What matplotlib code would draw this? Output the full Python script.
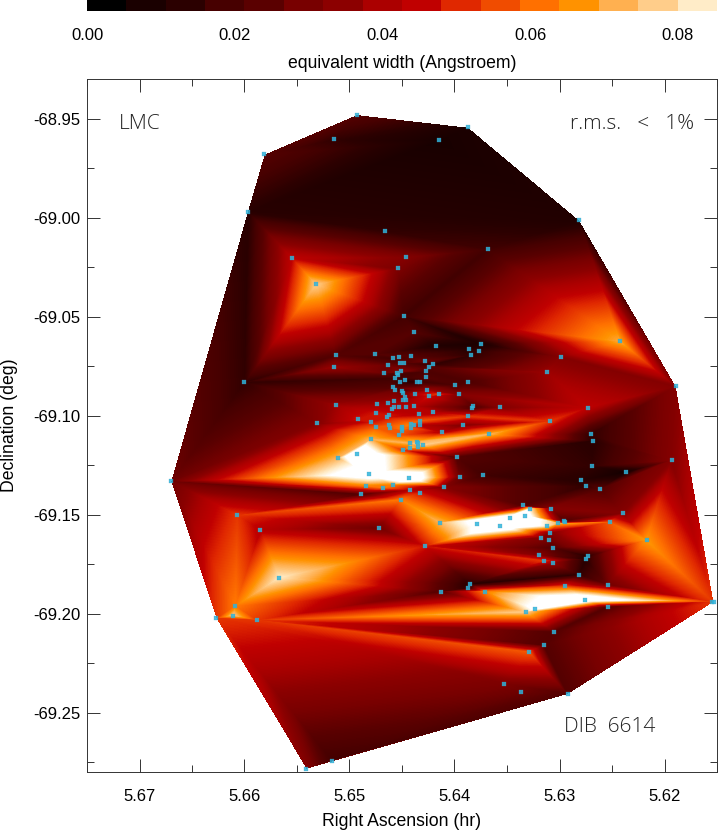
import numpy as np
import matplotlib
matplotlib.use('Agg')
import matplotlib.pyplot as plt
import matplotlib.tri as mtri
from matplotlib.colors import LinearSegmentedColormap, ListedColormap
from matplotlib.ticker import MultipleLocator, FormatStrFormatter

# sightlines: right ascension (hr), declination (deg), equivalent width (A)
ra = [
    5.6493, 5.6515, 5.6581, 5.6597, 5.6555, 5.6532, 5.6466, 5.6446, 5.6454, 5.6448,
    5.6439, 5.6415, 5.6387, 5.6281, 5.6368, 5.6242, 5.6375, 5.6386, 5.6377, 5.6384,
    5.6299, 5.6312, 5.6189, 5.6387, 5.6400, 5.6396, 5.6382, 5.6383, 5.6357, 5.6273,
    5.6387, 5.6392, 5.6412, 5.6309, 5.6367, 5.6270, 5.6268, 5.6398, 5.6269, 5.6193,
    5.6237, 5.6395, 5.6373, 5.6410, 5.6280, 5.6275, 5.6261, 5.6335, 5.6328, 5.6308,
    5.6333, 5.6347, 5.6379, 5.6357, 5.6414, 5.6312, 5.6309, 5.6318, 5.6310, 5.6306,
    5.6301, 5.6296, 5.6295, 5.6252, 5.6240, 5.6217, 5.6320, 5.6315, 5.6306, 5.6273,
    5.6275, 5.6281, 5.6254, 5.6295, 5.6385, 5.6387, 5.6413, 5.6371, 5.6276, 5.6323,
    5.6332, 5.6254, 5.6155, 5.6153, 5.6305, 5.6315, 5.6329, 5.6353, 5.6337, 5.6292,
    5.6670, 5.6607, 5.6585, 5.6567, 5.6609, 5.6611, 5.6627, 5.6588, 5.6541, 5.6517,
    5.6489, 5.6484, 5.6468, 5.6459, 5.6442, 5.6433, 5.6451, 5.6472, 5.6428, 5.6600,
    5.6513, 5.6515, 5.6513, 5.6531, 5.6511, 5.6418, 5.6476, 5.6459, 5.6453, 5.6441,
    5.6428, 5.6420, 5.6452, 5.6448, 5.6463, 5.6424, 5.6427, 5.6451, 5.6467, 5.6455,
    5.6454, 5.6457, 5.6427, 5.6447, 5.6452, 5.6436, 5.6433, 5.6459, 5.6457, 5.6450,
    5.6449, 5.6438, 5.6426, 5.6424, 5.6415, 5.6447, 5.6449, 5.6446, 5.6458, 5.6463,
    5.6474, 5.6439, 5.6446, 5.6453, 5.6458, 5.6460, 5.6475, 5.6434, 5.6420, 5.6462,
    5.6464, 5.6492, 5.6433, 5.6480, 5.6441, 5.6439, 5.6462, 5.6461, 5.6433, 5.6475,
    5.6450, 5.6450, 5.6441, 5.6450, 5.6453, 5.6480, 5.6442, 5.6436, 5.6435, 5.6430,
    5.6442, 5.6435, 5.6449, 5.6493, 5.6481, 5.6443,
]
dec = [
    -68.9480, -68.9605, -68.9680, -68.9970, -69.0203, -69.0337, -69.0069, -69.0201, -69.0256, -69.0497,
    -69.0579, -68.9610, -68.9544, -69.0014, -69.0160, -69.0625, -69.0637, -69.0665, -69.0672, -69.0695,
    -69.0704, -69.0780, -69.0852, -69.0830, -69.0845, -69.0892, -69.0953, -69.0963, -69.0958, -69.0960,
    -69.1004, -69.1049, -69.1083, -69.1029, -69.1094, -69.1094, -69.1128, -69.1211, -69.1256, -69.1226,
    -69.1286, -69.1309, -69.1302, -69.1362, -69.1327, -69.1357, -69.1372, -69.1453, -69.1470, -69.1470,
    -69.1506, -69.1519, -69.1548, -69.1556, -69.1541, -69.1559, -69.1594, -69.1618, -69.1630, -69.1669,
    -69.1544, -69.1531, -69.1539, -69.1539, -69.1493, -69.1630, -69.1704, -69.1734, -69.1746, -69.1711,
    -69.1726, -69.1804, -69.1854, -69.1861, -69.1852, -69.1872, -69.1889, -69.1889, -69.1930, -69.1978,
    -69.1993, -69.1968, -69.1940, -69.1943, -69.2094, -69.2160, -69.2195, -69.2354, -69.2396, -69.2408,
    -69.1332, -69.1504, -69.1576, -69.1819, -69.1963, -69.2011, -69.2024, -69.2034, -69.2786, -69.2744,
    -69.1398, -69.1357, -69.1364, -69.1352, -69.1377, -69.1389, -69.1425, -69.1569, -69.1660, -69.0832,
    -69.0695, -69.0755, -69.0948, -69.1039, -69.1214, -69.0647, -69.0690, -69.0711, -69.0706, -69.0701,
    -69.0726, -69.0741, -69.0736, -69.0736, -69.0746, -69.0756, -69.0776, -69.0776, -69.0786, -69.0786,
    -69.0796, -69.0812, -69.0807, -69.0822, -69.0830, -69.0830, -69.0829, -69.0857, -69.0872, -69.0874,
    -69.0887, -69.0892, -69.0872, -69.0903, -69.0892, -69.0908, -69.0923, -69.0923, -69.0928, -69.0938,
    -69.0940, -69.0953, -69.0957, -69.0958, -69.0958, -69.0968, -69.0987, -69.0993, -69.0983, -69.0998,
    -69.1009, -69.1019, -69.1026, -69.1034, -69.1042, -69.1046, -69.1049, -69.1063, -69.1049, -69.1059,
    -69.1056, -69.1069, -69.1063, -69.1079, -69.1100, -69.1120, -69.1140, -69.1132, -69.1140, -69.1149,
    -69.1165, -69.1160, -69.1175, -69.1195, -69.1295, -69.1317,
]
ew = [
    .020, .012, .020, .010, .042, .075, .012, .030, .028, .015,
    .020, .005, .006, .008, .015, .068, .006, .010, .012, .012,
    .030, .035, .030, .018, .018, .030, .020, .020, .030, .042,
    .050, .030, .040, .050, .070, .012, .010, .020, .012, .030,
    .004, .025, .015, .030, .010, .012, .020, .020, .080, .030,
    .100, .110, .090, .110, .070, .080, .030, .030, .025, .020,
    .070, .020, .030, .055, .030, .065, .030, .050, .035, .010,
    .010, .012, .025, .050, .010, .012, .020, .060, .105, .090,
    .075, .020, .050, .050, .020, .020, .055, .028, .025, .020,
    .025, .050, .040, .080, .060, .075, .050, .050, .030, .015,
    .020, .060, .060, .060, .040, .045, .060, .025, .045, .012,
    .020, .035, .035, .030, .070, .008, .020, .015, .018, .020,
    .025, .012, .020, .020, .025, .020, .018, .030, .025, .020,
    .015, .015, .020, .012, .012, .012, .015, .020, .025, .020,
    .025, .040, .035, .045, .050, .030, .035, .035, .035, .035,
    .035, .040, .040, .040, .040, .040, .045, .040, .040, .045,
    .045, .045, .055, .045, .060, .060, .055, .055, .040, .055,
    .060, .060, .055, .055, .055, .070, .070, .070, .080, .075,
    .070, .065, .050, .110, .100, .110,
]

# colour bar steps
bar_colors = ['#000000', '#1a0000', '#2b0000', '#470000', '#5a0000', '#780000', '#8c0000', '#ab0000',
              '#c00000', '#e02800', '#f04c00', '#ff7000', '#ff9200', '#ffb050', '#ffcd8a', '#ffecc8']
bar_ticks = [0.00, 0.02, 0.04, 0.06, 0.08]
ew_max = 0.0853

plt.rcParams['font.family'] = ['Liberation Sans', 'DejaVu Sans']
plt.rcParams['font.size'] = 12

smooth = LinearSegmentedColormap.from_list('ew', bar_colors + ['#ffffff'], N=256)
smooth.set_bad('white')

fig = plt.figure(figsize=(7.18, 8.34), dpi=100)
W, H = 718., 834.

# main panel: linear interpolation over the triangles, one grid cell per pixel
ax = fig.add_axes([87/W, 1 - 772/H, 630/W, 693/H])
tri = mtri.Triangulation(ra, dec)
interp = mtri.LinearTriInterpolator(tri, ew)
gx, gy = np.meshgrid(np.linspace(5.675, 5.615, 630), np.linspace(-68.93, -69.28, 693))
ax.imshow(interp(gx, gy), extent=[5.675, 5.615, -69.28, -68.93], origin='upper', aspect='auto',
          cmap=smooth, vmin=0, vmax=ew_max, interpolation='nearest')
ax.plot(ra, dec, ls='none', marker='s', ms=2.5, mfc='#2fb4dc', mec='#3d9fc0', mew=0.2, alpha=0.85)
ax.set_xlim(5.675, 5.615)
ax.set_ylim(-69.28, -68.93)
ax.xaxis.set_major_locator(MultipleLocator(0.01))
ax.xaxis.set_minor_locator(MultipleLocator(0.005))
ax.yaxis.set_major_locator(MultipleLocator(0.05))
ax.yaxis.set_minor_locator(MultipleLocator(0.025))
ax.xaxis.set_major_formatter(FormatStrFormatter('%.2f'))
ax.yaxis.set_major_formatter(FormatStrFormatter('%.2f'))
ax.tick_params(which='major', direction='in', length=9.5, width=0.7, top=True, right=True, color='#333333')
ax.tick_params(which='minor', direction='in', length=5, width=0.7, top=True, right=True, color='#333333')
ax.tick_params(axis='x', which='major', pad=12)
ax.tick_params(axis='y', which='major', pad=5)
for s in ax.spines.values():
    s.set_linewidth(0.7)
    s.set_color('#333333')
ax.set_xlabel('Right Ascension (hr)', labelpad=7, fontsize=12.7)
ax.set_ylabel('Declination (deg)', labelpad=10.5, fontsize=12.7)

ax.text(5.6720, -68.9525, 'LMC', fontsize=15, color='#222222', ha='left', va='center', family='Open Sans', fontweight='light')
ax.text(5.6172, -68.9525, 'r.m.s.   <   1%', fontsize=15, color='#222222', ha='right', va='center', family='Open Sans', fontweight='light')
ax.text(5.6209, -69.2573, 'DIB  6614', fontsize=15, color='#222222', ha='right', va='center', family='Open Sans', fontweight='light')

# colour bar
cax = fig.add_axes([87/W, 1 - 11/H, 630/W, 11/H])
cax.imshow(np.arange(len(bar_colors))[None, :], aspect='auto', cmap=ListedColormap(bar_colors),
           extent=[0, ew_max, 0, 1], interpolation='nearest')
cax.set_yticks([])
cax.set_xticks(bar_ticks)
cax.set_xticklabels(['%.2f' % t for t in bar_ticks])
cax.tick_params(axis='x', length=0, pad=12)
for s in cax.spines.values():
    s.set_visible(False)
cax.set_xlabel('equivalent width (Angstroem)', labelpad=8.6, fontsize=12.7)

fig.savefig('out.png', dpi=100)
